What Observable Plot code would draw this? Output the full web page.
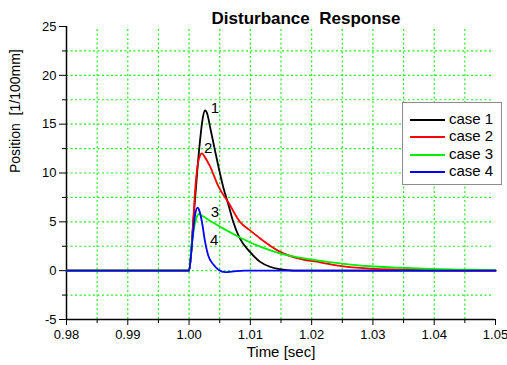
<!DOCTYPE html>
<html>
<head>
<meta charset="utf-8">
<script src="https://cdn.jsdelivr.net/npm/d3@7"></script>
<script src="https://cdn.jsdelivr.net/npm/@observablehq/plot@0.6"></script>
<style>
  html, body { margin: 0; padding: 0; background: #fff; }
  #wrap { position: relative; width: 507px; height: 365px; font-family: "Liberation Sans", Arial, sans-serif; }
  #title { position: absolute; left: 106px; width: 400px; top: 10px; text-align: center; font-size: 17px; line-height: 17px; font-weight: bold; white-space: pre; }
  #legend { position: absolute; left: 402px; top: 102px; width: 98px; height: 81px; border: 1.5px solid #8c8c8c; background: #fff; }
  .lrow { position: absolute; left: 0; height: 16px; font-size: 15px; line-height: 16px; }
  .lrow span.sw { position: absolute; left: 7px; top: 8px; width: 35px; height: 0; border-top: 2px solid #000; }
  .lrow span.tx { position: absolute; left: 46px; top: 0; white-space: nowrap; }
</style>
</head>
<body>
<div id="wrap">
  <div id="chart"></div>
  <div id="title"></div>
  <div id="legend"></div>
</div>
<script>
const titleText = "Disturbance  Response";
const xLabel = "Time [sec]";
const yLabel = "Position  [1/100mm]";

const caseNames = ["case 1", "case 2", "case 3", "case 4"];
const caseColors = ["#000000", "#ff0000", "#00ee00", "#0000ff"];

const time1 = [0.98, 1.0, 1.0003, 1.0007, 1.0011, 1.0014, 1.0018, 1.0022, 1.0026, 1.003, 1.0034, 1.0042, 1.0051, 1.0056, 1.0064, 1.0072, 1.0082, 1.0099, 1.0116, 1.0132, 1.0148, 1.017, 1.05];
const pos1  = [0, 0, 1.5, 5.2, 8.3, 10.7, 13.4, 15.5, 16.4, 16.0, 14.8, 12.4, 9.8, 8.5, 6.8, 5.0, 3.4, 1.95, 0.9, 0.4, 0.15, 0, 0];

const time2 = [0.98, 1.0, 1.0003, 1.0007, 1.001, 1.0014, 1.0018, 1.0021, 1.0026, 1.0034, 1.0048, 1.0064, 1.0083, 1.01, 1.0116, 1.0148, 1.0181, 1.0214, 1.0246, 1.0295, 1.0344, 1.04, 1.05];
const pos2  = [0, 0, 1.5, 5.2, 8.3, 10.8, 11.8, 12.0, 11.6, 10.7, 8.6, 7.0, 5.0, 4.1, 3.3, 1.95, 1.2, 0.86, 0.48, 0.2, 0.1, 0.03, 0];

const time3 = [0.98, 1.0, 1.0004, 1.0008, 1.0012, 1.0016, 1.0022, 1.0037, 1.0059, 1.0083, 1.0116, 1.0148, 1.0181, 1.0214, 1.0246, 1.0295, 1.0344, 1.0393, 1.045, 1.05];
const pos3  = [0, 0, 2.4, 4.3, 5.4, 5.8, 5.6, 5.0, 4.2, 3.4, 2.46, 1.78, 1.33, 1.0, 0.75, 0.45, 0.3, 0.18, 0.1, 0.05];

const time4 = [0.98, 1.0, 1.0003, 1.0007, 1.001, 1.0014, 1.0017, 1.0021, 1.0026, 1.0031, 1.004, 1.0048, 1.0059, 1.007, 1.009, 1.05];
const pos4  = [0, 0, 1.5, 4.2, 5.8, 6.45, 6.1, 5.0, 3.0, 1.6, 0.6, 0.1, -0.15, -0.1, 0, 0];

const curveLabels = ["1", "2", "3", "4"];
const curveLabelTime = [1.0042, 1.0031, 1.0042, 1.0041];
const curveLabelPos = [16.6, 12.5, 6.0, 3.1];

const xMajorTicks = [0.98, 0.99, 1.00, 1.01, 1.02, 1.03, 1.04, 1.05];
const xMinorTicks = [0.985, 0.995, 1.005, 1.015, 1.025, 1.035, 1.045];
const yMajorTicks = [-5, 0, 5, 10, 15, 20, 25];
const yMinorTicks = [-2.5, 2.5, 7.5, 12.5, 17.5, 22.5];
const xGrid = [0.985, 0.99, 0.995, 1.00, 1.005, 1.01, 1.015, 1.02, 1.025, 1.03, 1.035, 1.04, 1.045];
const yGrid = [-2.5, 0, 2.5, 5, 7.5, 10, 12.5, 15, 17.5, 20, 22.5];

const xDomain = [0.98, 1.05];
const yDomain = [-5, 25];

const times = [time1, time2, time3, time4];
const positions = [pos1, pos2, pos3, pos4];
const rows = [];
times.forEach((ts, i) => ts.forEach((t, j) => rows.push({t, v: positions[i][j], c: caseNames[i]})));
const labelRows = curveLabels.map((s, i) => ({s, t: curveLabelTime[i], v: curveLabelPos[i]}));

const gridColor = "#22ee22";
const font = "Liberation Sans, Arial, sans-serif";

const plot = Plot.plot({
  width: 507,
  height: 365,
  marginLeft: 66,
  marginRight: 12,
  marginTop: 26,
  marginBottom: 46,
  style: {fontFamily: font, fontSize: "13px", background: "white", color: "#000"},
  x: {domain: xDomain},
  y: {domain: yDomain},
  color: {domain: caseNames, range: caseColors},
  marks: [
    Plot.ruleX(xGrid, {y1: yDomain[0], y2: yDomain[1] - 0.3, stroke: gridColor, strokeWidth: 1.2, strokeDasharray: "2,2.5"}),
    Plot.ruleY(yGrid, {x1: xDomain[0], x2: xDomain[1] - 0.0003, stroke: gridColor, strokeWidth: 1.2, strokeDasharray: "2,2.5"}),
    Plot.axisX({ticks: xMajorTicks, tickSize: 6, tickPadding: 4, tickFormat: d3.format(".2f"), label: null, fontSize: 13}),
    Plot.axisX({ticks: xMinorTicks, tickSize: 4, text: null, label: null}),
    Plot.axisY({ticks: yMajorTicks, tickSize: 7, tickPadding: 3, tickFormat: d => String(d), label: null, fontSize: 13}),
    Plot.axisY({ticks: yMinorTicks, tickSize: 4, text: null, label: null}),
    Plot.ruleX([xDomain[0]], {y1: yDomain[0], y2: yDomain[1], stroke: "#000", strokeWidth: 1.5}),
    Plot.ruleY([yDomain[0]], {x1: xDomain[0], x2: xDomain[1], stroke: "#000", strokeWidth: 1.5}),
    Plot.line(rows, {x: "t", y: "v", z: "c", stroke: "c", strokeWidth: 1.8, curve: "monotone-x"}),
    Plot.text(labelRows, {x: "t", y: "v", text: "s", fontSize: 15, fill: "#000"}),
    Plot.text([xLabel], {frameAnchor: "bottom", dy: 37, fontSize: 15, fill: "#000"}),
    Plot.text([yLabel], {frameAnchor: "left", dx: -51, rotate: -90, fontSize: 14, fill: "#000"})
  ]
});
document.getElementById("chart").appendChild(plot);
plot.querySelectorAll("text").forEach(t => t.style.whiteSpace = "pre");

document.getElementById("title").textContent = titleText;
const legend = document.getElementById("legend");
caseNames.forEach((name, i) => {
  const row = document.createElement("div");
  row.className = "lrow";
  row.style.top = (8 + i * 17.4) + "px";
  row.style.width = "98px";
  const sw = document.createElement("span");
  sw.className = "sw";
  sw.style.borderTopColor = caseColors[i];
  const tx = document.createElement("span");
  tx.className = "tx";
  tx.textContent = name;
  row.appendChild(sw);
  row.appendChild(tx);
  legend.appendChild(row);
});
</script>
</body>
</html>
